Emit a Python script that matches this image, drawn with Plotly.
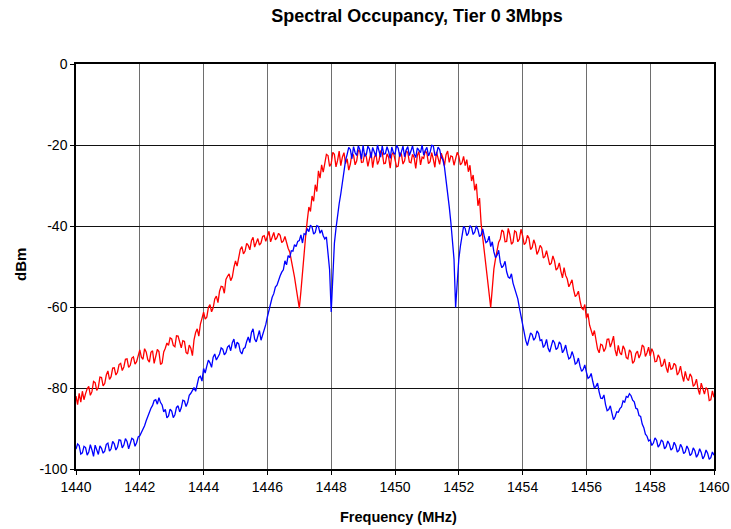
import numpy as np
import plotly.graph_objects as go

# Frequency grid: 1440.00 .. 1460.00 MHz in 0.05 MHz steps
freq_mhz = np.round(np.linspace(1440.0, 1460.0, 401), 2)

# Measured power, wider (red) signal, dBm  (one row = 1 MHz)
red_dbm = [
    -82.0, -84.1, -81.3, -83.5, -80.8, -82.9, -81.4, -80.2, -79.6, -81.8, -80.9, -78.4, -78.7, -80.6, -79.8, -77.3, -77.4, -79.5, -78.9, -76.8,
    -75.8, -77.9, -77.2, -75.1, -75.0, -76.8, -76.1, -74.2, -73.9, -75.7, -74.8, -72.9, -72.8, -74.9, -74.4, -72.6, -72.3, -74.1, -73.5, -71.8,
    -70.6, -72.4, -72.9, -70.3, -71.1, -73.0, -73.6, -71.2, -70.8, -73.9, -72.4, -70.5, -71.0, -74.2, -73.8, -71.1, -70.2, -68.9, -69.5, -67.6,
    -67.9, -69.5, -69.8, -67.1, -67.2, -68.9, -70.1, -68.3, -68.5, -71.2, -71.6, -69.4, -70.2, -72.0, -68.1, -66.3, -65.4, -67.2, -64.2, -62.8,
    -61.3, -63.0, -62.5, -60.1, -59.4, -61.2, -60.2, -58.0, -57.3, -58.9, -56.1, -54.9, -55.0, -56.6, -53.2, -52.4, -51.8, -53.5, -52.6, -50.2,
    -48.6, -49.9, -47.3, -45.8, -45.1, -46.9, -46.2, -44.3, -44.8, -45.9, -43.6, -42.8, -45.2, -43.9, -43.1, -44.7, -44.2, -42.6, -42.4, -43.8,
    -42.8, -41.3, -43.9, -42.5, -41.6, -43.4, -42.9, -41.8, -42.3, -44.1, -43.7, -42.6, -44.3, -45.5, -46.4, -48.3, -50.1, -52.6, -55.2, -57.9,
    -60.3, -56.2, -50.8, -46.1, -42.4, -38.6, -35.3, -36.4, -32.6, -33.9, -29.8, -31.5, -26.4, -28.2, -24.9, -26.7, -24.1, -22.3, -22.6, -25.3,
    -24.6, -21.8, -22.3, -25.4, -23.8, -21.5, -25.1, -23.0, -21.9, -24.6, -23.4, -26.2, -24.7, -22.1, -22.5, -24.9, -23.9, -21.3, -21.6, -24.3,
    -24.2, -22.0, -22.9, -25.3, -23.4, -21.7, -25.6, -23.1, -22.1, -24.8, -23.8, -21.4, -21.9, -24.6, -24.5, -22.2, -23.0, -25.7, -22.4, -21.8,
    -23.6, -25.4, -25.2, -22.0, -22.2, -24.7, -23.9, -21.5, -21.8, -24.2, -24.4, -22.3, -23.1, -25.8, -22.6, -21.6, -24.9, -23.0, -23.3, -21.4,
    -22.1, -24.6, -24.1, -21.9, -23.5, -25.5, -21.7, -23.3, -24.8, -22.0, -23.2, -25.1, -22.4, -21.5, -24.3, -22.7, -22.9, -25.0, -23.6, -21.8,
    -22.7, -24.9, -24.4, -22.8, -25.1, -23.6, -26.6, -25.0, -28.9, -27.4, -31.2, -29.6, -35.0, -33.1, -39.4, -42.8, -46.2, -49.3, -52.4, -56.3,
    -60.1, -55.4, -50.6, -48.1, -46.4, -44.0, -43.2, -41.0, -41.4, -43.9, -43.8, -40.6, -42.1, -44.5, -44.0, -41.2, -41.5, -43.9, -43.2, -40.8,
    -42.4, -44.6, -44.1, -42.3, -43.0, -45.8, -45.3, -43.4, -44.6, -47.0, -46.2, -44.8, -45.4, -47.9, -47.5, -46.1, -47.8, -49.6, -49.2, -47.4,
    -48.6, -50.9, -50.4, -49.1, -51.2, -52.8, -50.3, -52.2, -53.1, -55.0, -54.2, -53.3, -55.8, -57.4, -57.0, -56.1, -58.4, -60.2, -60.6, -59.4,
    -62.8, -61.6, -64.5, -66.2, -67.1, -65.8, -68.6, -70.4, -71.3, -69.2, -69.4, -71.0, -70.2, -68.0, -67.9, -69.9, -68.7, -67.2, -70.6, -72.1,
    -69.5, -71.3, -71.8, -69.6, -70.4, -72.5, -72.8, -70.6, -71.2, -73.9, -73.4, -71.5, -70.9, -72.6, -71.6, -69.4, -69.8, -72.2, -71.3, -69.9,
    -72.1, -70.3, -71.2, -73.5, -73.4, -71.8, -72.6, -74.7, -74.3, -72.8, -74.9, -76.2, -73.6, -75.4, -75.2, -73.9, -74.4, -76.8, -76.1, -74.6,
    -76.8, -78.4, -75.9, -77.6, -78.2, -76.5, -77.3, -79.6, -79.1, -77.8, -80.2, -81.6, -78.8, -80.5, -81.5, -79.9, -80.4, -83.1, -82.9, -80.7,
    -82.3,
]

# Measured power, narrower (blue) signal, dBm  (one row = 1 MHz)
blue_dbm = [
    -95.1, -93.8, -94.2, -96.3, -96.0, -94.4, -94.7, -96.6, -95.8, -94.0, -95.3, -96.9, -94.1, -95.5, -96.4, -94.3, -94.9, -96.1, -95.6, -93.9,
    -93.6, -95.6, -95.0, -93.2, -93.8, -95.3, -94.6, -92.8, -92.9, -94.8, -94.1, -92.5, -93.2, -95.0, -93.9, -92.4, -92.7, -94.4, -93.5, -92.1,
    -91.8, -91.0, -90.2, -89.3, -88.1, -87.0, -86.4, -85.0, -84.3, -83.1, -82.9, -84.0, -82.4, -83.6, -84.2, -85.9, -85.3, -87.4, -86.9, -85.2,
    -85.7, -87.3, -86.6, -84.8, -84.4, -85.9, -84.9, -83.0, -83.2, -84.6, -83.6, -81.8, -81.3, -80.5, -79.9, -80.8, -78.6, -77.4, -77.1, -78.3,
    -75.2, -76.3, -74.6, -73.1, -73.8, -74.9, -72.4, -71.6, -73.1, -72.2, -71.6, -70.1, -70.4, -71.8, -71.3, -69.9, -69.5, -70.8, -68.8, -67.9,
    -70.2, -68.7, -69.1, -71.0, -71.6, -70.3, -70.0, -68.5, -67.4, -68.8, -66.3, -65.4, -67.9, -68.6, -66.8, -65.8, -68.2, -67.0, -66.1, -64.3,
    -62.4, -60.8, -58.9, -57.6, -56.7, -55.1, -54.6, -53.2, -52.3, -51.4, -50.8, -48.6, -49.6, -47.3, -47.8, -46.1, -46.2, -44.6, -45.1, -43.8,
    -43.6, -42.2, -44.2, -41.9, -42.1, -40.6, -41.4, -39.8, -40.3, -42.0, -41.6, -39.9, -40.1, -41.8, -41.0, -42.4, -43.2, -42.7, -46.4, -50.8,
    -61.2, -52.0, -44.3, -40.6, -37.2, -34.5, -32.1, -29.0, -26.4, -23.8, -22.3, -20.6, -21.1, -23.4, -20.4, -21.9, -22.6, -20.2, -21.2, -23.5,
    -20.1, -22.8, -22.4, -20.3, -21.0, -23.2, -20.6, -21.7, -22.8, -20.0, -21.4, -23.0, -20.2, -22.3, -22.1, -20.4, -21.6, -23.3, -20.5, -21.9,
    -22.3, -20.1, -20.8, -22.9, -21.7, -20.3, -22.9, -21.2, -20.4, -22.6, -21.5, -20.2, -22.2, -23.1, -20.7, -21.4, -21.9, -20.0, -22.5, -21.3,
    -20.6, -22.7, -21.8, -20.1, -20.2, -22.5, -22.4, -20.5, -21.1, -23.0, -23.6, -25.4, -28.4, -31.6, -35.2, -39.0, -44.6, -48.2, -60.1, -53.0,
    -48.2, -45.0, -42.3, -40.1, -40.6, -42.4, -41.8, -39.9, -40.4, -42.1, -41.5, -40.0, -40.9, -42.6, -42.2, -40.7, -42.6, -44.1, -43.8, -42.5,
    -45.1, -43.9, -46.4, -47.8, -47.2, -46.0, -49.0, -50.3, -49.8, -48.7, -51.3, -52.6, -52.9, -51.8, -54.1, -55.6, -56.4, -58.0, -60.2, -62.4,
    -64.8, -66.9, -68.3, -69.5, -67.9, -66.4, -66.8, -68.2, -67.6, -65.9, -66.5, -68.3, -68.1, -70.0, -69.4, -68.0, -70.2, -71.1, -69.6, -68.2,
    -68.8, -70.5, -70.1, -68.6, -69.2, -71.3, -70.6, -69.4, -71.4, -72.8, -72.5, -71.0, -72.2, -74.1, -73.8, -72.6, -74.6, -75.9, -75.4, -74.3,
    -76.1, -77.6, -77.3, -76.4, -78.4, -80.0, -79.6, -78.8, -81.0, -82.5, -82.6, -81.7, -84.1, -85.6, -85.3, -84.4, -86.2, -87.8, -87.1, -85.9,
    -86.0, -85.1, -84.7, -83.2, -83.5, -82.1, -82.3, -81.4, -81.9, -83.0, -83.4, -85.0, -85.2, -86.8, -87.0, -88.9, -89.8, -91.4, -91.9, -93.1,
    -92.8, -94.2, -93.6, -92.3, -92.9, -94.6, -94.0, -92.8, -93.3, -95.0, -94.5, -93.1, -93.8, -95.3, -94.9, -93.4, -94.2, -95.8, -95.4, -93.9,
    -94.7, -96.2, -95.8, -94.3, -95.1, -96.7, -96.2, -94.8, -95.5, -97.1, -96.4, -95.0, -95.9, -97.5, -96.8, -95.3, -96.1, -97.6, -97.2, -95.8,
    -96.6,
]

x_ticks = [1440, 1442, 1444, 1446, 1448, 1450, 1452, 1454, 1456, 1458, 1460]
y_ticks = [0, -20, -40, -60, -80, -100]

FONT = "Liberation Sans, Arial, sans-serif"

fig = go.Figure()
fig.add_trace(go.Scatter(x=freq_mhz, y=red_dbm, mode="lines",
                         line=dict(color="#FF0000", width=1.3), showlegend=False))
fig.add_trace(go.Scatter(x=freq_mhz, y=blue_dbm, mode="lines",
                         line=dict(color="#0000FF", width=1.3), showlegend=False))

axis_common = dict(
    showline=True, linecolor="black", linewidth=1.5, mirror=True,
    ticks="outside", ticklen=4, tickcolor="black", tickwidth=1,
    tickfont=dict(family=FONT, size=14, color="black"),
    zeroline=False, automargin=False, showgrid=True, gridwidth=1,
)

fig.update_layout(
    width=731, height=529,
    margin=dict(l=76, r=17, t=64, b=60, autoexpand=False),
    paper_bgcolor="white", plot_bgcolor="white",
    font=dict(family=FONT, size=14, color="black"),
    title=dict(text="<b>Spectral Occupancy, Tier 0 3Mbps</b>",
               x=417 / 731, xanchor="center", xref="container",
               y=1 - 16 / 529, yanchor="middle", yref="container",
               font=dict(family=FONT, size=18, color="black")),
    xaxis=dict(range=[1440, 1460], tickvals=x_ticks,
               ticktext=[str(v) for v in x_ticks],
               gridcolor="#6e6e6e", **axis_common),
    yaxis=dict(range=[-100, 0], tickvals=y_ticks,
               ticktext=[str(v) for v in y_ticks],
               gridcolor="#111111", **axis_common),
    annotations=[
        dict(text="<b>Frequency (MHz)</b>", xref="paper", yref="paper",
             x=(398 - 76) / 638, y=-(517 - 469) / 405,
             xanchor="center", yanchor="middle",
             showarrow=False, font=dict(family=FONT, size=14.5)),
        dict(text="<b>dBm</b>", xref="paper", yref="paper",
             x=(20 - 76) / 638, y=(469 - 265) / 405,
             xanchor="center", yanchor="middle",
             textangle=-90, showarrow=False, font=dict(family=FONT, size=15)),
    ],
)

fig.write_html("out.html")
